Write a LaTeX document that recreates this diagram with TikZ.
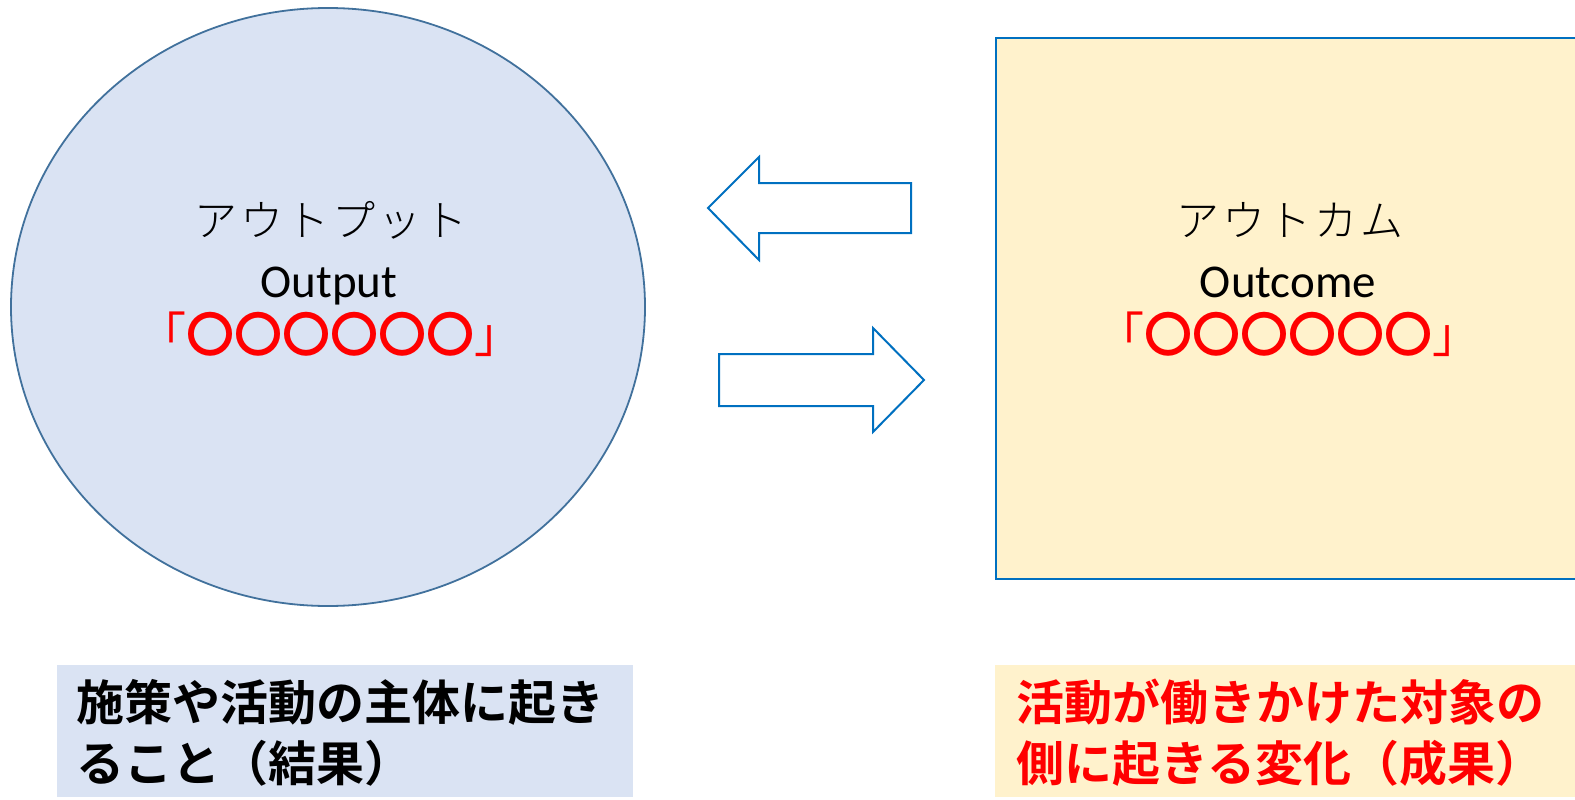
\documentclass[tikz,border=0pt]{standalone}
\usepackage{fontspec}
\usetikzlibrary{shapes.geometric}
\setmainfont{Carlito}
\IfFontExistsTF{Noto Sans CJK JP Light}{\newfontfamily\jplight[LetterSpace=7]{Noto Sans CJK JP Light}}{\newfontfamily\jplight[LetterSpace=7]{Noto Sans CJK JP}}
\newfontfamily\jp{Noto Sans CJK JP}
\IfFontExistsTF{Noto Sans CJK JP Bold}{\newfontfamily\jpbold{Noto Sans CJK JP Bold}}{\newfontfamily\jpbold[FakeBold=2]{Noto Sans CJK JP}}
\definecolor{ellfill}{HTML}{DAE3F3}
\definecolor{elldraw}{HTML}{41719C}
\definecolor{boxfill}{HTML}{FFF2CC}
\definecolor{boxdraw}{HTML}{0070C0}
\definecolor{myred}{HTML}{FF0000}
\newcommand{\maru}{{\jp 「}{\jpbold 〇〇〇〇〇〇}{\jp 」}}
\tikzset{
  katakana/.style={font=\jplight\fontsize{43}{48}\selectfont, inner sep=0pt},
  latin/.style={font=\fontsize{47}{52}\selectfont, inner sep=0pt, anchor=base},
  marks/.style={font=\jp\fontsize{48}{52}\selectfont, text=myred, inner sep=0pt},
  note/.style={font=\jpbold\fontsize{48}{61}\selectfont, inner sep=0pt, anchor=base west},
  blockarrow/.style={draw=boxdraw, line width=2pt, fill=white, line join=miter},
}
\begin{document}
\begin{tikzpicture}[x=1pt,y=-1pt]
\useasboundingbox (0,0) rectangle (1575,800);
% main shapes
\node[ellipse, draw=elldraw, fill=ellfill, line width=1.8pt, minimum width=634pt, minimum height=598pt, inner sep=0pt] (out) at (328,307) {};
\node[rectangle, draw=boxdraw, fill=boxfill, line width=2.2pt, minimum width=587pt, minimum height=541pt, inner sep=0pt, anchor=north west] (outc) at (995,37) {};
% texts in ellipse
\node[katakana] (outjp) at (331,220) {アウトプット};
\node[latin] (outen) at (329,297) {Output};
\node[marks] (outmk) at (330,334) {\maru};
% texts in rectangle
\node[katakana] (outcjp) at (1290,220) {アウトカム};
\node[latin] (outcen) at (1288,297) {Outcome};
\node[marks] (outcmk) at (1288,334) {\maru};
% block arrows
\draw[blockarrow] (708,208) -- (759,157) -- (759,183) -- (911,183) -- (911,233) -- (759,233) -- (759,260) -- cycle;
\draw[blockarrow] (719,354) -- (873,354) -- (873,328) -- (924,380) -- (873,432) -- (873,406) -- (719,406) -- cycle;
% bottom boxes
\node[rectangle, fill=ellfill, minimum width=576pt, minimum height=132pt, inner sep=0pt, anchor=north west] (lbox) at (57,665) {};
\node[rectangle, fill=boxfill, minimum width=587pt, minimum height=132pt, inner sep=0pt, anchor=north west] (rbox) at (995,665) {};
\node[note] (l1) at (76,720) {施策や活動の主体に起き};
\node[note] (l2) at (76,781) {ること（結果）};
\node[note, text=myred] (r1) at (1016,720) {活動が働きかけた対象の};
\node[note, text=myred] (r2) at (1016,781) {側に起きる変化（成果）};
\end{tikzpicture}
\end{document}
